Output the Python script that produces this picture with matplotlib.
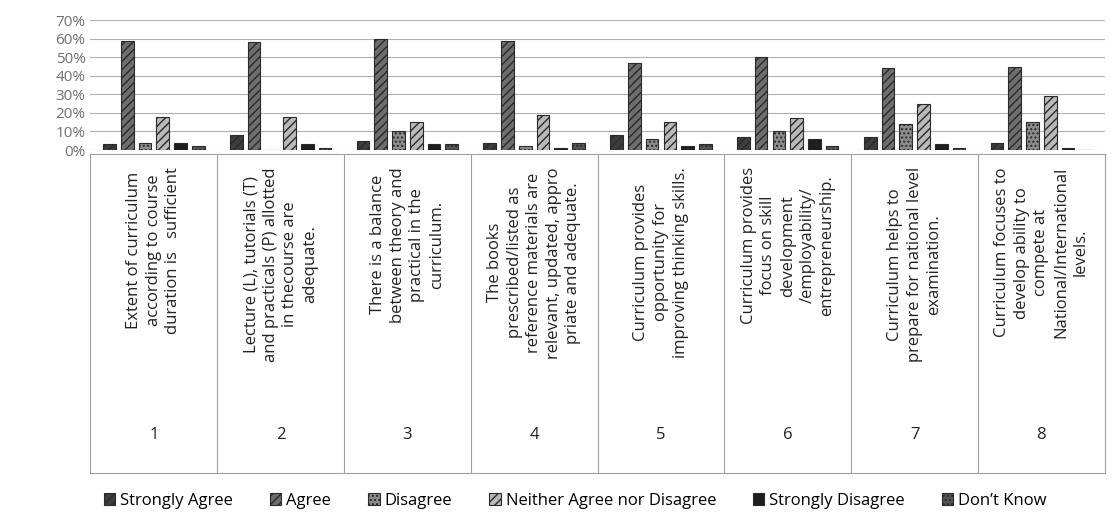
import numpy as np
import matplotlib.pyplot as plt

plt.rcParams['font.family'] = ['Open Sans', 'DejaVu Sans']

# survey statements (x categories)
statements = [
    "Extent of curriculum\naccording to course\nduration is   sufficient",
    "Lecture (L), tutorials (T)\nand practicals (P) allotted\nin thecourse are\nadequate.",
    "There is a balance\nbetween theory and\npractical in the\ncurriculum.",
    "The books\nprescribed/listed as\nreference materials are\nrelevant, updated, appro\npriate and adequate.",
    "Curriculum provides\nopportunity for\nimproving thinking skills.",
    "Curriculum provides\nfocus on skill\ndevelopment\n/employability/\nentrepreneurship.",
    "Curriculum helps to\nprepare for national level\nexamination.",
    "Curriculum focuses to\ndevelop ability to\ncompete at\nNational/International\nlevels.",
]
numbers = ["1", "2", "3", "4", "5", "6", "7", "8"]

responses = ["Strongly Agree", "Agree", "Disagree",
             "Neither Agree nor Disagree", "Strongly Disagree", "Don\u2019t Know"]

strongly_agree = [3, 8, 5, 4, 8, 7, 7, 4]
agree = [59, 58, 60, 59, 47, 50, 44, 45]
disagree = [4, 0, 10, 2, 6, 10, 14, 15]
neither = [18, 18, 15, 19, 15, 17, 25, 29]
strongly_disagree = [4, 3, 3, 1, 2, 6, 3, 1]
dont_know = [2, 1, 3, 4, 3, 2, 1, 0]

series = [strongly_agree, agree, disagree, neither, strongly_disagree, dont_know]
fills = ['#3c3c3c', '#6e6e6e', '#8c8c8c', '#b9b9b9', '#1e1e1e', '#555555']
hatches = ['////', '////', '....', '////', '', '....']

fig = plt.figure(figsize=(11.17, 5.32), dpi=100)
ax = fig.add_axes([0.081, 0.718, 0.908, 0.244])
x = np.arange(len(numbers))
w = 0.1
for i, (vals, c, h) in enumerate(zip(series, fills, hatches)):
    ax.bar(x + (i - 2.5) * 0.14, vals, width=w, color=c, edgecolor='#2a2a2a',
           linewidth=0.8, hatch=h, label=responses[i], zorder=3)

ax.set_xlim(-0.5, len(numbers) - 0.5)
ax.set_ylim(0, 70)
ax.set_yticks(np.arange(0, 71, 10))
ax.set_yticklabels([f"{v}%" for v in range(0, 71, 10)], fontsize=11, color='#707070')
ax.set_xticks([])
ax.tick_params(axis='y', length=0)
ax.grid(axis='y', color='#b0b0b0', linewidth=0.8, zorder=0)
for s in ax.spines.values():
    s.set_visible(False)

# category table below the plot
tab = fig.add_axes([0.081, 0.11, 0.908, 0.60])
tab.set_xlim(-0.5, len(numbers) - 0.5)
tab.set_ylim(0, 1)
tab.set_xticks([])
tab.set_yticks([])
for s in tab.spines.values():
    s.set_color('#a0a0a0')
    s.set_linewidth(0.8)
for k in range(len(numbers) - 1):
    tab.axvline(k + 0.5, color='#a0a0a0', linewidth=0.8)
for k, (txt, n) in enumerate(zip(statements, numbers)):
    tab.text(k, 0.96, txt, rotation=90, ha='center', va='top',
             multialignment='center', fontsize=12, color='#222222',
             linespacing=1.3)
    tab.text(k, 0.12, n, ha='center', va='center', fontsize=12, color='#222222')

handles, labels = ax.get_legend_handles_labels()
fig.legend(handles, labels, loc='center', bbox_to_anchor=(0.515, 0.058), ncol=6,
           frameon=False, fontsize=12, handlelength=0.7, handleheight=0.7,
           handletextpad=0.3, columnspacing=2.2)

fig.savefig('out.png', dpi=100, facecolor='white')
